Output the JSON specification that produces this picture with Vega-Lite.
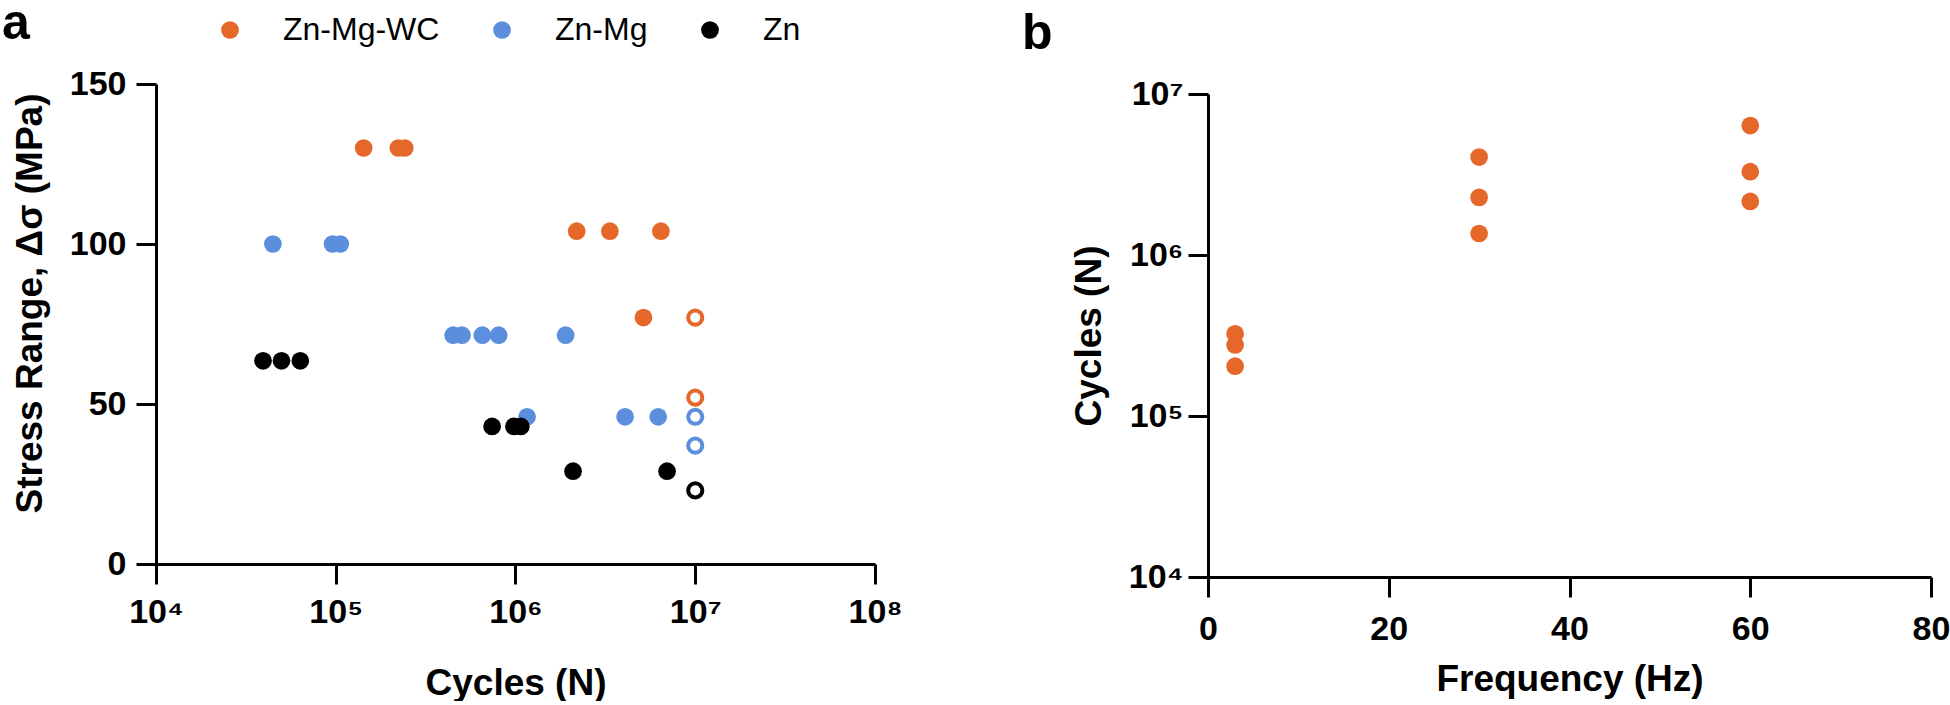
{
  "$schema": "https://vega.github.io/schema/vega-lite/v6.json",
  "padding": {"left": 2, "top": -1, "right": 0, "bottom": 0},
  "autosize": {"type": "pad"},
  "background": "white",
  "bounds": "full",
  "spacing": 120,
  "config": {
    "font": "Liberation Sans",
    "view": {"stroke": null},
    "axis": {
      "domainColor": "black", "domainWidth": 3, "tickColor": "black", "tickWidth": 3, "tickSize": 20,
      "labelFont": "Liberation Sans", "labelFontSize": 34, "labelFontWeight": "bold", "labelColor": "black",
      "titleFont": "Liberation Sans", "titleFontSize": 37, "titleFontWeight": "bold", "titleColor": "black",
      "grid": false, "labelFlush": false, "labelOverlap": false
    },
    "title": {"fontSize": 50, "fontWeight": "bold", "anchor": "start", "frame": "group", "color": "black", "font": "Liberation Sans"},
    "legend": {"padding": 0}
  },
  "datasets": {
    "fatigue": [
      {"alloy": "Zn-Mg-WC", "cycles": 143000, "stress": 130, "runout": false},
      {"alloy": "Zn-Mg-WC", "cycles": 223000, "stress": 130, "runout": false},
      {"alloy": "Zn-Mg-WC", "cycles": 242000, "stress": 130, "runout": false},
      {"alloy": "Zn-Mg-WC", "cycles": 2190000, "stress": 104, "runout": false},
      {"alloy": "Zn-Mg-WC", "cycles": 3350000, "stress": 104, "runout": false},
      {"alloy": "Zn-Mg-WC", "cycles": 6440000, "stress": 104, "runout": false},
      {"alloy": "Zn-Mg-WC", "cycles": 5150000, "stress": 77, "runout": false},
      {"alloy": "Zn-Mg-WC", "cycles": 10000000, "stress": 77, "runout": true},
      {"alloy": "Zn-Mg-WC", "cycles": 10000000, "stress": 52, "runout": true},
      {"alloy": "Zn-Mg", "cycles": 44700, "stress": 100, "runout": false},
      {"alloy": "Zn-Mg", "cycles": 96000, "stress": 100, "runout": false},
      {"alloy": "Zn-Mg", "cycles": 106000, "stress": 100, "runout": false},
      {"alloy": "Zn-Mg", "cycles": 450000, "stress": 71.5, "runout": false},
      {"alloy": "Zn-Mg", "cycles": 504000, "stress": 71.5, "runout": false},
      {"alloy": "Zn-Mg", "cycles": 654000, "stress": 71.5, "runout": false},
      {"alloy": "Zn-Mg", "cycles": 806000, "stress": 71.5, "runout": false},
      {"alloy": "Zn-Mg", "cycles": 1900000, "stress": 71.5, "runout": false},
      {"alloy": "Zn-Mg", "cycles": 1160000, "stress": 46, "runout": false},
      {"alloy": "Zn-Mg", "cycles": 4070000, "stress": 46, "runout": false},
      {"alloy": "Zn-Mg", "cycles": 6220000, "stress": 46, "runout": false},
      {"alloy": "Zn-Mg", "cycles": 10000000, "stress": 46, "runout": true},
      {"alloy": "Zn-Mg", "cycles": 10000000, "stress": 37, "runout": true},
      {"alloy": "Zn", "cycles": 39400, "stress": 63.5, "runout": false},
      {"alloy": "Zn", "cycles": 49900, "stress": 63.5, "runout": false},
      {"alloy": "Zn", "cycles": 63500, "stress": 63.5, "runout": false},
      {"alloy": "Zn", "cycles": 741000, "stress": 43, "runout": false},
      {"alloy": "Zn", "cycles": 980000, "stress": 43, "runout": false},
      {"alloy": "Zn", "cycles": 1070000, "stress": 43, "runout": false},
      {"alloy": "Zn", "cycles": 2090000, "stress": 29, "runout": false},
      {"alloy": "Zn", "cycles": 6970000, "stress": 29, "runout": false},
      {"alloy": "Zn", "cycles": 10000000, "stress": 23, "runout": true}
    ],
    "frequency": [
      {"frequency": 3, "cycles": 324000},
      {"frequency": 3, "cycles": 276000},
      {"frequency": 3, "cycles": 204000},
      {"frequency": 30, "cycles": 4060000},
      {"frequency": 30, "cycles": 2280000},
      {"frequency": 30, "cycles": 1360000},
      {"frequency": 60, "cycles": 6370000},
      {"frequency": 60, "cycles": 3290000},
      {"frequency": 60, "cycles": 2150000}
    ]
  },
  "hconcat": [
    {
      "width": 719,
      "height": 480,
      "title": {"text": "a", "dx": -154, "offset": 18},
      "data": {"name": "fatigue"},
      "encoding": {
        "x": {
          "field": "cycles", "type": "quantitative",
          "scale": {"type": "log", "domain": [10000, 100000000], "nice": false},
          "axis": {
            "values": [10000, 100000, 1000000, 10000000, 100000000],
            "labelExpr": "'10' + ['⁰','¹','²','³','⁴','⁵','⁶','⁷','⁸','⁹'][round(log(datum.value)/LN10)]",
            "labelPadding": 11, "title": "Cycles (N)", "titlePadding": 36
          }
        },
        "y": {
          "field": "stress", "type": "quantitative",
          "scale": {"domain": [0, 150], "nice": false},
          "axis": {"values": [0, 50, 100, 150], "labelPadding": 10, "title": "Stress Range, Δσ (MPa)", "titlePadding": 20, "titleY": 219}
        },
        "color": {
          "field": "alloy", "type": "nominal",
          "scale": {"domain": ["Zn-Mg-WC", "Zn-Mg", "Zn"], "range": ["#E5682A", "#5B8FDE", "#000000"]},
          "legend": {
            "orient": "none", "direction": "horizontal", "legendX": 58, "legendY": -70,
            "title": null, "labelFontSize": 32, "labelFontWeight": "normal", "labelColor": "black",
            "symbolType": "circle", "symbolSize": 314, "symbolStrokeWidth": 0, "symbolOpacity": 1,
            "labelOffset": 37, "columnPadding": 46, "gridAlign": "each"
          }
        }
      },
      "layer": [
        {
          "transform": [{"filter": "datum.runout == false"}],
          "mark": {"type": "point", "shape": "circle", "filled": true, "size": 314, "opacity": 1, "strokeWidth": 0}
        },
        {
          "transform": [{"filter": "datum.runout == true"}],
          "mark": {"type": "point", "shape": "circle", "filled": false, "size": 200, "opacity": 1, "strokeWidth": 4}
        }
      ]
    },
    {
      "width": 723,
      "height": 493,
      "title": {"text": "b", "dx": -186, "offset": 18},
      "data": {"name": "frequency"},
      "mark": {"type": "point", "shape": "circle", "filled": true, "size": 314, "opacity": 1, "color": "#E5682A", "strokeWidth": 0},
      "encoding": {
        "x": {
          "field": "frequency", "type": "quantitative",
          "scale": {"domain": [0, 80], "nice": false},
          "axis": {"values": [0, 20, 40, 60, 80], "labelPadding": 15, "title": "Frequency (Hz)", "titlePadding": 15}
        },
        "y": {
          "field": "cycles", "type": "quantitative",
          "scale": {"type": "log", "domain": [10000, 10000000], "nice": false, "range": [493, 10]},
          "axis": {
            "values": [10000, 100000, 1000000, 10000000],
            "labelExpr": "'10' + ['⁰','¹','²','³','⁴','⁵','⁶','⁷','⁸','⁹'][round(log(datum.value)/LN10)]",
            "labelPadding": 5, "title": "Cycles (N)", "titlePadding": 20
          }
        }
      }
    }
  ]
}
